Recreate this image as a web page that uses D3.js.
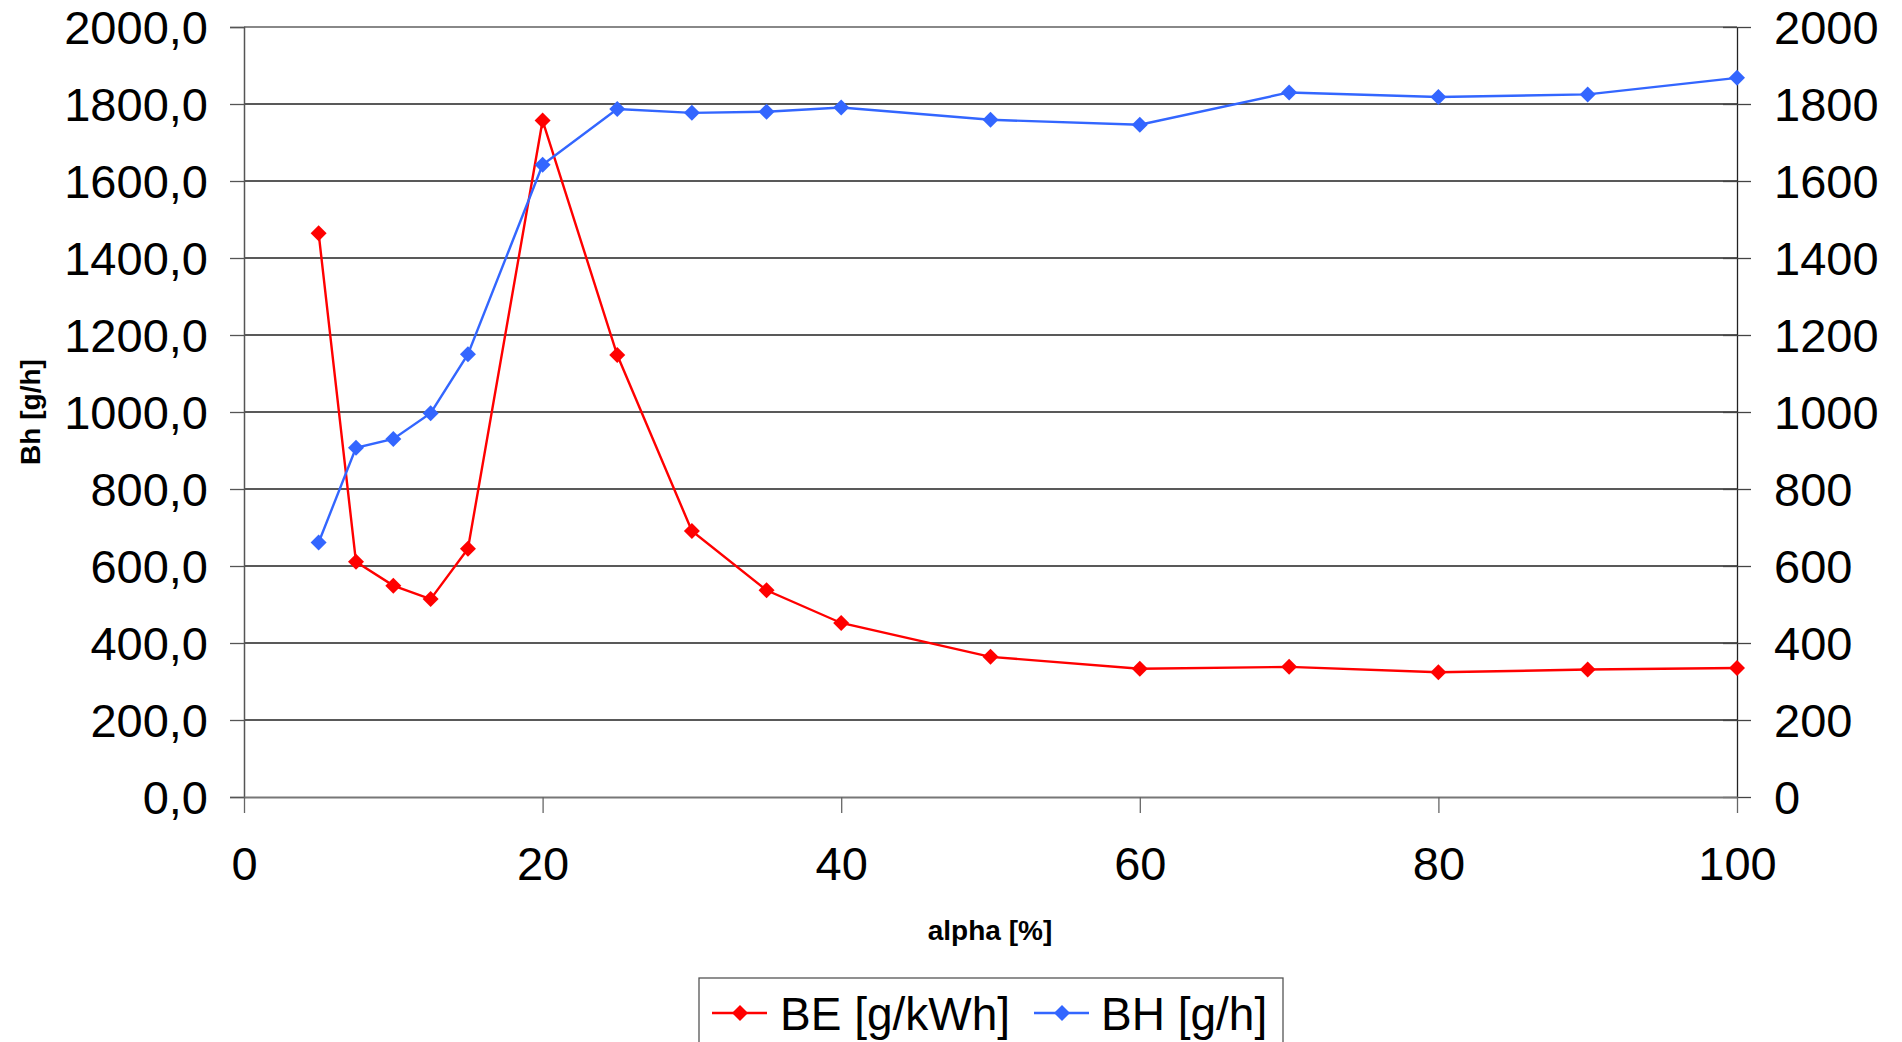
<!DOCTYPE html>
<html><head><meta charset="utf-8">
<script src="https://cdn.jsdelivr.net/npm/d3@7"></script>
<style>body{margin:0;background:#fff;} svg{display:block;font-family:"Liberation Sans",Arial,sans-serif;}</style>
</head><body><svg id="c" width="1902" height="1042"></svg>
<script>
const alpha = [5, 7.5, 10, 12.5, 15, 20, 25, 30, 35, 40, 50, 60, 70, 80, 90, 100];
const BE = [1464, 611, 549, 514, 645, 1757, 1148, 691, 537, 452, 364, 333, 338, 324, 331, 335];
const BH = [661, 907, 930, 997, 1150, 1642, 1787, 1777, 1780, 1791, 1759, 1746, 1830, 1818, 1825, 1868];
const yTicks = [0, 200, 400, 600, 800, 1000, 1200, 1400, 1600, 1800, 2000];
const xTicks = [0, 20, 40, 60, 80, 100];
const seriesNames = ["BE [g/kWh]", "BH [g/h]"];
const colors = ["#FF0000", "#3366FF"];

const svg = d3.select("#c");
const L = 244, R = 1737, T = 27, B = 797;
const x = d3.scaleLinear().domain([0, 100]).range([L, R]);
const y = d3.scaleLinear().domain([0, 2000]).range([B, T]);

// gridlines
svg.append("g").selectAll("line").data(yTicks.slice(1, -1)).join("line")
  .attr("x1", L).attr("x2", R).attr("y1", d => y(d)).attr("y2", d => y(d))
  .attr("stroke", "#222").attr("stroke-width", 1.3);
// top border
svg.append("line").attr("x1", L).attr("x2", R).attr("y1", T).attr("y2", T).attr("stroke", "#888").attr("stroke-width", 2);

// left axis
const yl = svg.append("g").attr("transform", `translate(${L},0)`)
  .call(d3.axisLeft(y).tickValues(yTicks).tickSize(14).tickPadding(22).tickFormat(d => d3.format(".1f")(d).replace(".", ",")));
yl.select(".domain").attr("stroke", "#555").attr("stroke-width", 1.5);
yl.selectAll(".tick line").attr("stroke", "#555").attr("stroke-width", 1.3);
yl.selectAll("text").attr("font-size", 47).attr("fill", "#000").attr("dy", "0.36em");

// right axis
const yr = svg.append("g").attr("transform", `translate(${R},0)`)
  .call(d3.axisRight(y).tickValues(yTicks).tickSizeInner(14).tickSizeOuter(0).tickPadding(23).tickFormat(d3.format("d")));
yr.select(".domain").attr("stroke", "#222").attr("stroke-width", 1.3);
yr.selectAll(".tick line").attr("x1", -14).attr("stroke", "#444").attr("stroke-width", 1.3);
yr.selectAll("text").attr("font-size", 47).attr("fill", "#000").attr("dy", "0.36em");

// bottom axis
const xa = svg.append("g").attr("transform", `translate(0,${B})`)
  .call(d3.axisBottom(x).tickValues(xTicks).tickSizeInner(16).tickSizeOuter(0).tickPadding(34));
xa.select(".domain").attr("stroke", "#777").attr("stroke-width", 2);
xa.selectAll(".tick line").attr("stroke", "#666").attr("stroke-width", 1.3);
xa.selectAll("text").attr("font-size", 47).attr("fill", "#000").attr("dy", "0.71em");

// titles
svg.append("text").attr("x", 990).attr("y", 940).attr("text-anchor", "middle")
  .attr("font-size", 28).attr("font-weight", "bold").text("alpha [%]");
svg.append("text").attr("transform", "translate(40,412) rotate(-90)").attr("text-anchor", "middle")
  .attr("font-size", 28).attr("font-weight", "bold").text("Bh [g/h]");

const diamond = "M0,-8L8,0L0,8L-8,0Z";
const data = [BE, BH];
data.forEach((vals, i) => {
  const pts = alpha.map((a, k) => [a, vals[k]]);
  svg.append("path").datum(pts)
    .attr("d", d3.line().x(d => x(d[0])).y(d => y(d[1])))
    .attr("fill", "none").attr("stroke", colors[i]).attr("stroke-width", 2.4);
  svg.append("g").selectAll("path").data(pts).join("path")
    .attr("d", diamond).attr("transform", d => `translate(${x(d[0])},${y(d[1])})`)
    .attr("fill", colors[i]);
});

// legend
const lg = svg.append("g");
lg.append("rect").attr("x", 699).attr("y", 978).attr("width", 584).attr("height", 80)
  .attr("fill", "#fff").attr("stroke", "#555").attr("stroke-width", 1.3);
const legX = [712, 1034], legTX = [780, 1101];
seriesNames.forEach((n, i) => {
  lg.append("line").attr("x1", legX[i]).attr("x2", legX[i] + 55).attr("y1", 1013).attr("y2", 1013)
    .attr("stroke", colors[i]).attr("stroke-width", 2.4);
  lg.append("path").attr("d", diamond).attr("transform", `translate(${legX[i] + 28},1013)`).attr("fill", colors[i]);
  lg.append("text").attr("x", legTX[i]).attr("y", 1013).attr("dy", "0.36em")
    .attr("font-size", 46).text(n);
});
</script></body></html>
